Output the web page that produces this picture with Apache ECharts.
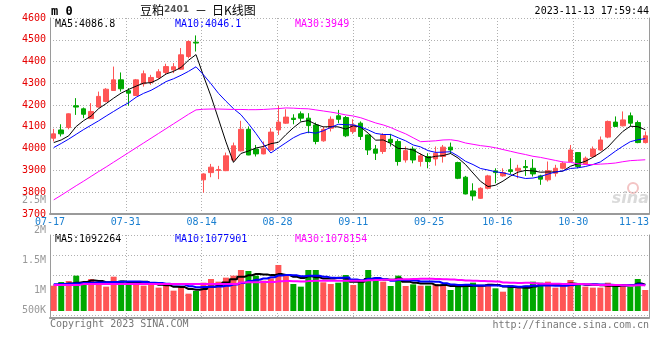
<!DOCTYPE html>
<html><head><meta charset="utf-8">
<script src="https://cdn.jsdelivr.net/npm/echarts/dist/echarts.min.js"></script>
<style>html,body{margin:0;padding:0;background:#fff}#c{width:660px;height:360px}</style>
</head><body><div id="c"></div>
<script>
// ---------- data ----------
const dates = ['07-17','07-18','07-19','07-20','07-21','07-24','07-25','07-26','07-27','07-28','07-31',
'08-01','08-02','08-03','08-04','08-07','08-08','08-09','08-10','08-11','08-14','08-15','08-16','08-17','08-18','08-21','08-22','08-23','08-24','08-25','08-28','08-29','08-30','08-31',
'09-01','09-04','09-05','09-06','09-07','09-08','09-11','09-12','09-13','09-14','09-15','09-18','09-19','09-20','09-21','09-22','09-25','09-26','09-27','09-28',
'10-09','10-10','10-11','10-12','10-13','10-16','10-17','10-18','10-19','10-20','10-23','10-24','10-25','10-26','10-27','10-30','10-31',
'11-01','11-02','11-03','11-06','11-07','11-08','11-09','11-10','11-13'];
const tickLabels = ['07-17','07-31','08-14','08-28','09-11','09-25','10-16','10-30','11-13'];

const open = [4048,4086,4097,4197,4183,4138,4191,4217,4267,4316, 4266,4244,4298,4305,4327,4350,4362,4365,4423,4489,
3857,3890,3900,3899,3948,3990,4089,3998,3976,3994, 4086,4117,4140,4160,4140,4109,4036,4094,4151,4143,
4079,4117,4063,3998,3987,4043,4033,3948,3998,3941, 3964,3953,3964,4007,3936,3869,3806,3772,3818,3898,
3875,3903,3899,3918,3910,3875,3857,3887,3910,3941, 3982,3930,3964,3994,4053,4122,4105,4151,4120,4028];
const close = [4068,4068,4160,4191,4158,4171,4240,4273,4316,4275, 4255,4316,4344,4327,4353,4377,4376,4431,4492,4485,
3884,3915,3904,3967,4013,4089,3971,3976,4002,4076, 4122,4145,4134,4140,4106,4033,4089,4135,4135,4059,
4109,4056,3994,3979,4063,4028,3941,3991,3948,3967, 3941,3979,4007,3994,3864,3792,3783,3818,3875,3890,
3890,3895,3910,3913,3884,3860,3899,3910,3933,3994, 3918,3956,3998,4040,4125,4102,4132,4117,4028,4059];
const high = [4091,4112,4162,4232,4189,4209,4262,4278,4377,4350, 4278,4320,4359,4339,4365,4390,4393,4462,4497,4520,
3887,3930,3921,3982,4028,4128,4102,4017,4033,4094, 4197,4181,4158,4171,4163,4120,4102,4148,4178,4150,
4135,4125,4065,4017,4071,4068,4043,4010,4010,3979, 3979,4010,4017,4028,3940,3875,3841,3823,3880,3910,
3910,3956,3926,3948,3952,3880,3941,3926,3941,4017, 3984,3964,4010,4056,4129,4148,4171,4166,4129,4079];
const low = [4033,4056,4089,4155,4140,4136,4189,4213,4265,4262, 4197,4242,4285,4293,4320,4339,4347,4362,4415,4446,
3798,3869,3860,3897,3940,3987,3970,3964,3974,3990, 4063,4114,4112,4125,4071,4020,4032,4079,4117,4053,
4068,4040,3971,3948,3976,4010,3922,3936,3933,3918, 3910,3922,3936,3976,3860,3790,3762,3769,3813,3841,
3871,3884,3864,3875,3872,3834,3849,3872,3905,3940, 3910,3926,3960,3990,4048,4100,4102,4102,4025,4024];

const ma5 = [4028,4040,4059,4102,4129,4150,4184,4207,4232,4255, 4272,4287,4301,4303,4319,4343,4355,4373,4406,4432,
4334,4241,4136,4031,3937,3978,3989,4003,4010,4023, 4029,4064,4096,4123,4129,4112,4100,4101,4100,4090,
4105,4099,4071,4039,4040,4024,4001,4000,3994,3975, 3958,3965,3968,3978,3957,3927,3888,3850,3826,3832,
3851,3874,3892,3900,3898,3892,3893,3893,3897,3919, 3931,3942,3960,3981,4007,4044,4079,4103,4101,4087];
const ma10 = [4005,4024,4044,4066,4088,4108,4128,4150,4171,4192, 4211,4236,4254,4268,4287,4308,4321,4337,4355,4376,
4339,4298,4254,4218,4184,4156,4115,4070,4021,3980, 4004,4027,4050,4067,4076,4071,4082,4098,4112,4110,
4109,4100,4086,4070,4065,4065,4050,4036,4017,4008, 3991,3983,3984,3986,3966,3942,3927,3909,3902,3894,
3889,3881,3871,3863,3865,3872,3883,3893,3898,3909, 3912,3918,3927,3939,3963,3988,4011,4032,4041,4046];
const ma30 = [3765,3786,3808,3830,3851,3873,3895,3916,3938,3960, 3982,4004,4026,4048,4070,4092,4114,4136,4158,4178,
4181,4182,4182,4181,4180,4180,4179,4179,4180,4182, 4184,4187,4186,4184,4183,4178,4173,4168,4162,4155,
4150,4142,4130,4118,4109,4097,4082,4068,4050,4032, 4034,4036,4040,4041,4036,4026,4020,4014,4010,4004,
3996,3988,3980,3973,3965,3960,3953,3946,3939,3937, 3931,3927,3927,3929,3931,3934,3940,3945,3947,3949];

// volume values in thousands
const volumeK = [1072,1133,1150,1239,1083,1183,1094,1056,1222,1156, 1111,1122,1072,1094,1039,1072,989,1044,939,983,
1122,1183,1139,1206,1239,1333,1317,1239,1156,1194, 1417,1239,1100,1056,1333,1333,1128,1100,1122,1250,
1083,1139,1333,1183,1139,1067,1239,1067,1094,1072, 1072,1100,1083,1000,1056,1100,1122,1067,1100,1028,
972,1083,1028,1072,1139,1122,1139,1039,1067,1167, 1100,1056,1039,1039,1122,1083,1100,1056,1183,1000];
const volMa5K = [1085,1095,1110,1120,1135,1158,1150,1131,1128,1142, 1128,1133,1137,1111,1088,1080,1053,1048,1017,1005,
1015,1054,1073,1127,1178,1220,1247,1267,1257,1248, 1265,1249,1221,1201,1229,1212,1190,1190,1203,1187,
1137,1139,1185,1198,1175,1172,1192,1139,1121,1108, 1109,1081,1084,1065,1062,1068,1072,1069,1089,1083,
1058,1050,1042,1037,1059,1089,1100,1102,1101,1107, 1102,1086,1086,1080,1071,1068,1077,1080,1109,1090];
const volMa10K = [1095,1100,1105,1110,1115,1120,1125,1130,1135,1139, 1143,1142,1134,1119,1115,1104,1093,1092,1064,1047,
1048,1054,1060,1072,1092,1118,1151,1170,1192,1213, 1242,1248,1244,1229,1238,1238,1220,1206,1202,1208,
1174,1164,1188,1200,1181,1154,1166,1162,1159,1142, 1141,1137,1112,1093,1085,1088,1077,1077,1077,1073,
1063,1061,1056,1063,1071,1073,1075,1072,1069,1083, 1096,1093,1094,1091,1089,1085,1081,1083,1095,1078];
const volMa30K = [1085,1085,1085,1085,1100,1100,1100,1100,1100,1100, 1100,1100,1100,1100,1100,1100,1100,1100,1100,1100,
1100,1100,1100,1100,1100,1125,1128,1130,1132,1133, 1144,1148,1146,1140,1148,1153,1154,1156,1153,1156,
1155,1155,1164,1167,1170,1170,1179,1179,1184,1187, 1186,1183,1181,1174,1168,1160,1154,1148,1146,1141,
1126,1121,1118,1119,1112,1105,1106,1104,1102,1099, 1100,1097,1087,1082,1082,1082,1078,1077,1080,1078];

const priceLegend = ['MA5:4086.8','MA10:4046.1','MA30:3949'];
const volLegend = ['MA5:1092264','MA10:1077901','MA30:1078154'];
const TITLE_SYM = 'm 0', TITLE_A = '豆粕', TITLE_CODE = '2401', TITLE_DASH = '－', TITLE_B = '日K线图';
const STAMP = '2023-11-13 17:59:44';
const COPY = 'Copyright 2023 SINA.COM', URL_TXT = 'http://finance.sina.com.cn';

// ---------- styles ----------
const FONT = '"DejaVu Sans Mono", monospace';
const UP = '#ff5555', DOWN = '#00a800';
const MA_COLORS = ['#000000', '#0000ff', '#ff00ff'];
const BORDER = '#9a9a9a';
const dotted = {type: [1, 2], color: '#b0b0b0', width: 1};
const K = 1000;

const isTick = (i, v) => tickLabels.indexOf(v) >= 0;
const isGrid = (i, v) => { const k = tickLabels.indexOf(v); return k > 0 && k < tickLabels.length - 1; };

const candleData = dates.map((d, i) => [open[i], close[i], low[i], high[i]]);
const volData = volumeK.map((v, i) => ({value: v * K, itemStyle: {color: close[i] >= open[i] ? UP : DOWN}}));

const chart = echarts.init(document.getElementById('c'), null, {renderer: 'canvas'});

const legendTexts = [];
[priceLegend, volLegend].forEach((arr, r) => {
  const xs = [55, 175, 295];
  arr.forEach((t, j) => legendTexts.push({type: 'text', x: xs[j], y: r === 0 ? 24 : 239,
    style: {text: t, font: '10px ' + FONT, fill: MA_COLORS[j], verticalAlign: 'middle', align: 'left'}}));
});

const option = {
  animation: false,
  backgroundColor: '#fff',
  grid: [
    {left: 50, right: 11, top: 18, height: 196},
    {left: 50, right: 11, top: 235, height: 76},
    {left: 50, right: 11, top: 235, height: 83},
    {left: 50, right: 11, top: 200.5, height: 120}
  ],
  xAxis: [
    {gridIndex: 0, type: 'category', data: dates, boundaryGap: true, show: false},
    {gridIndex: 0, type: 'category', data: dates, boundaryGap: false, position: 'bottom',
      axisLine: {show: true, onZero: false, lineStyle: {color: BORDER, width: 2}},
      axisTick: {show: false},
      axisLabel: {interval: isTick, color: '#1a7fd0', fontFamily: FONT, fontSize: 10, margin: 3,
        formatter: v => v === tickLabels[tickLabels.length - 1] ? '{r|' + v + '}' : v,
        rich: {r: {padding: [0, 30, 0, 0], color: '#1a7fd0', fontFamily: FONT, fontSize: 10}}},
      splitLine: {show: true, interval: isGrid, lineStyle: dotted}},
    {gridIndex: 1, type: 'category', data: dates, boundaryGap: true, show: false},
    {gridIndex: 2, type: 'category', data: dates, boundaryGap: false,
      axisLine: {show: true, onZero: false, lineStyle: {color: BORDER, width: 2}},
      axisTick: {show: false}, axisLabel: {show: false},
      splitLine: {show: true, interval: isGrid, lineStyle: dotted}},
    {gridIndex: 3, type: 'category', data: dates, show: false}
  ],
  yAxis: [
    {gridIndex: 0, type: 'value', min: 3700, max: 4600, interval: 100, position: 'left',
      axisLine: {show: true, lineStyle: {color: BORDER}}, axisTick: {show: false},
      axisLabel: {color: '#e60000', fontFamily: FONT, fontSize: 10, margin: 4, padding: [0, 0, 4, 0],
        formatter: v => String(v)},
      splitLine: {show: true, lineStyle: dotted}},
    {gridIndex: 0, type: 'value', min: 3700, max: 4600, position: 'right',
      axisLine: {show: true, lineStyle: {color: BORDER}}, axisTick: {show: false},
      axisLabel: {show: false}, splitLine: {show: false}},
    {gridIndex: 1, type: 'value', min: 650000, max: 1916667, show: false},
    {gridIndex: 2, type: 'value', inverse: true, min: 0, max: 4.15, interval: 1, position: 'left',
      axisLine: {show: true, lineStyle: {color: BORDER}}, axisTick: {show: false},
      axisLabel: {show: false}, splitLine: {show: true, lineStyle: dotted}},
    {gridIndex: 2, type: 'value', inverse: true, min: 0, max: 4.15, position: 'right',
      axisLine: {show: true, lineStyle: {color: BORDER}}, axisTick: {show: false},
      axisLabel: {show: false}, splitLine: {show: false}},
    {gridIndex: 3, type: 'value', min: 500000, max: 2500000, interval: 500000, position: 'left',
      axisLine: {show: false}, axisTick: {show: false}, splitLine: {show: false},
      axisLabel: {color: '#999', fontFamily: FONT, fontSize: 10, margin: 4, lineHeight: 10,
        formatter: v => v >= 1000000 ? (v / 1000000) + 'M' : (v / 1000) + 'K\n\n'}}
  ],
  series: [
    {type: 'candlestick', xAxisIndex: 0, yAxisIndex: 0, data: candleData, barWidth: 5,
      itemStyle: {color: UP, color0: DOWN, borderColor: UP, borderColor0: DOWN, borderWidth: 1}},
    {type: 'line', xAxisIndex: 0, yAxisIndex: 0, data: ma5, showSymbol: false, lineStyle: {color: MA_COLORS[0], width: 1}},
    {type: 'line', xAxisIndex: 0, yAxisIndex: 0, data: ma10, showSymbol: false, lineStyle: {color: MA_COLORS[1], width: 1}},
    {type: 'line', xAxisIndex: 0, yAxisIndex: 0, data: ma30, showSymbol: false, lineStyle: {color: MA_COLORS[2], width: 1}},
    {type: 'bar', xAxisIndex: 2, yAxisIndex: 2, data: volData, barWidth: 6},
    {type: 'line', xAxisIndex: 2, yAxisIndex: 2, data: volMa5K.map(v => v * K), step: 'middle', showSymbol: false, lineStyle: {color: MA_COLORS[0], width: 2}},
    {type: 'line', xAxisIndex: 2, yAxisIndex: 2, data: volMa10K.map(v => v * K), step: 'middle', showSymbol: false, lineStyle: {color: MA_COLORS[1], width: 2}},
    {type: 'line', xAxisIndex: 2, yAxisIndex: 2, data: volMa30K.map(v => v * K), step: 'middle', showSymbol: false, lineStyle: {color: MA_COLORS[2], width: 2}}
  ],
  graphic: [
    {type: 'text', x: 51, y: 12, style: {text: TITLE_SYM, font: 'bold 12px ' + FONT, fill: '#000', verticalAlign: 'middle'}},
    {type: 'text', x: 140, y: 10, style: {text: TITLE_A, font: '12px "Noto Sans CJK SC"', fill: '#000', verticalAlign: 'middle'}},
    {type: 'text', x: 164, y: 10, style: {text: TITLE_CODE, font: 'bold 9px "DejaVu Sans"', fill: '#555', verticalAlign: 'middle'}},
    {type: 'text', x: 195, y: 10, style: {text: TITLE_DASH, font: '12px "Noto Sans CJK SC"', fill: '#000', verticalAlign: 'middle'}},
    {type: 'text', x: 212, y: 10, style: {text: TITLE_B, font: '12px "Noto Sans CJK SC"', fill: '#000', verticalAlign: 'middle'}},
    {type: 'text', x: 649, y: 11, style: {text: STAMP, font: '10px ' + FONT, fill: '#000', align: 'right', verticalAlign: 'middle'}},
    {type: 'text', x: 50, y: 324, style: {text: COPY, font: '10px ' + FONT, fill: '#777', verticalAlign: 'middle'}},
    {type: 'text', x: 649, y: 325, style: {text: URL_TXT, font: '10px ' + FONT, fill: '#777', align: 'right', verticalAlign: 'middle'}},
    {type: 'circle', shape: {cx: 633, cy: 188, r: 5}, style: {fill: 'none', stroke: '#f3c4c4', lineWidth: 2}, z: -1},
    {type: 'text', x: 649, y: 199, style: {text: 'sina', font: 'italic bold 16px "DejaVu Sans"', fill: '#dadada', align: 'right', verticalAlign: 'middle'}, z: -1}
  ].concat(legendTexts)
};
chart.setOption(option);
</script>
</body></html>
